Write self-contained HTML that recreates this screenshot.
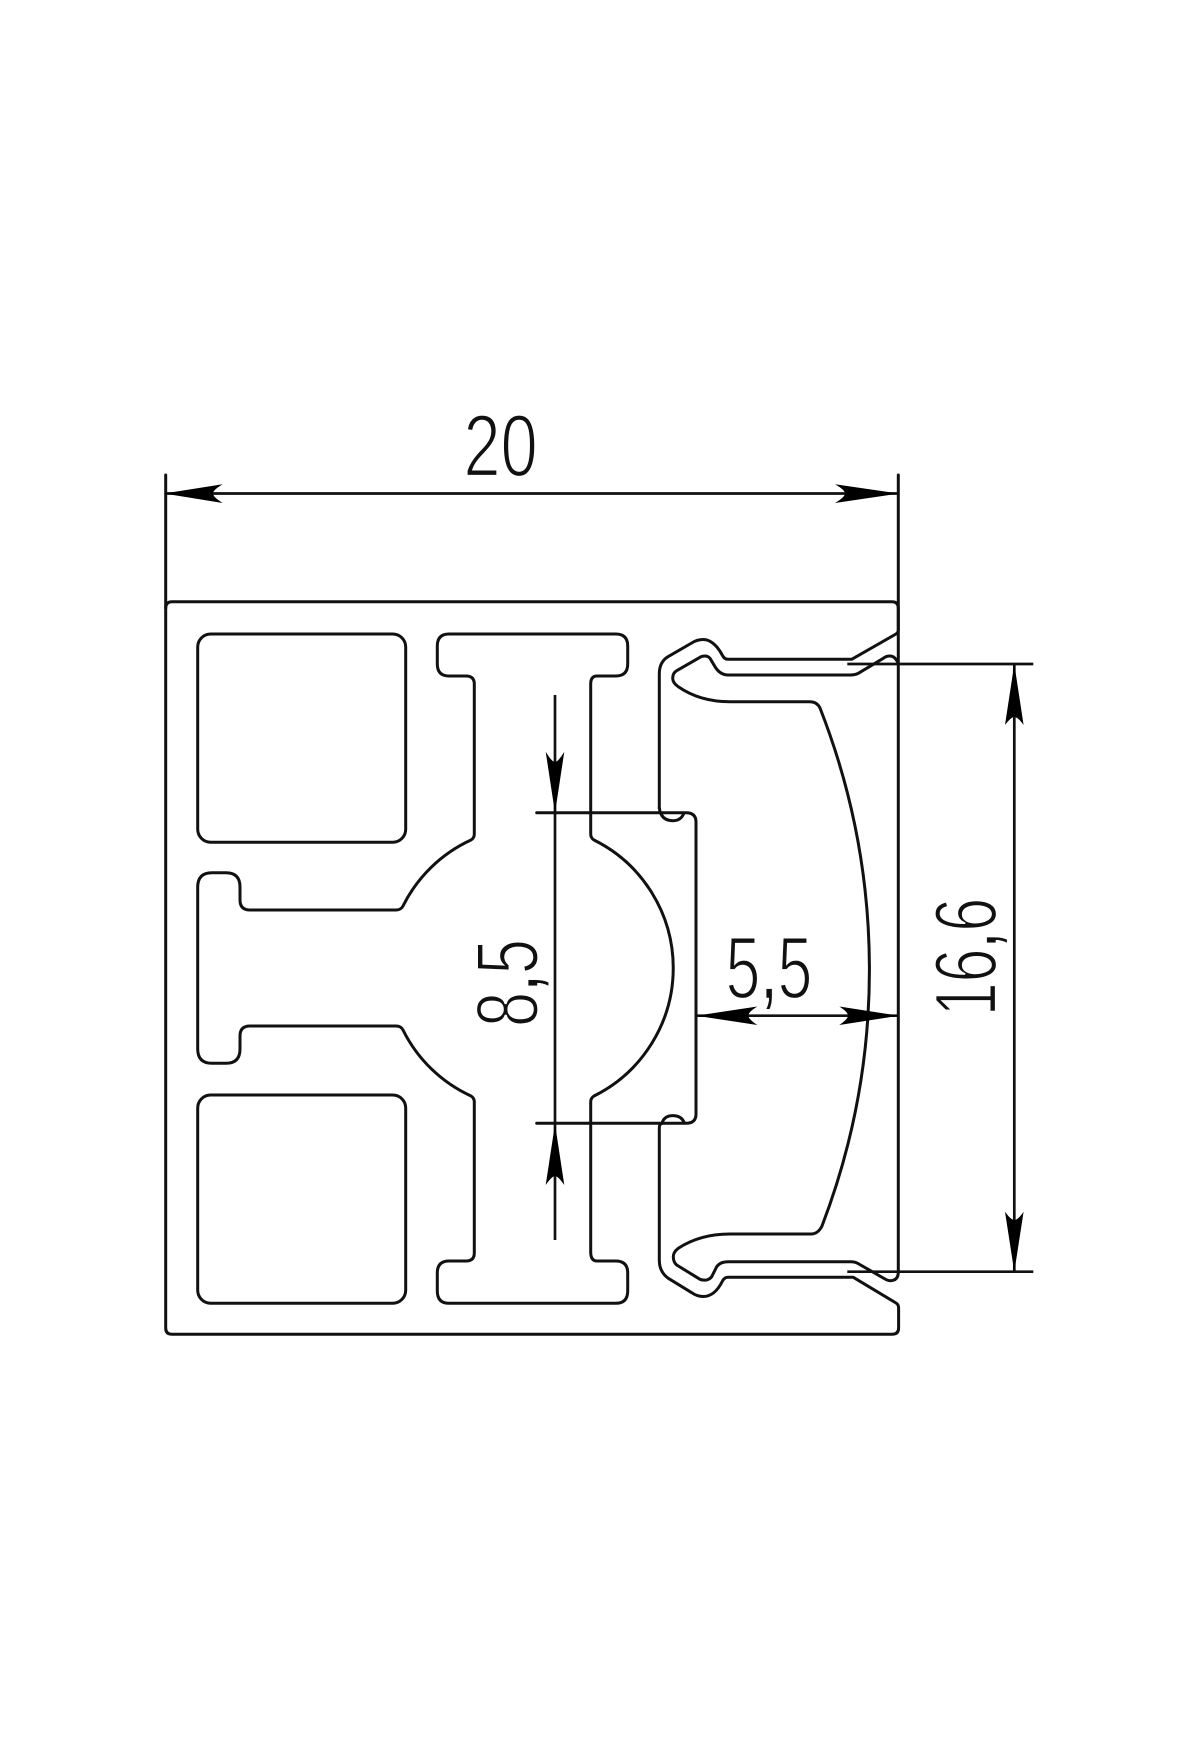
<!DOCTYPE html>
<html>
<head>
<meta charset="utf-8">
<style>
html,body{margin:0;padding:0;background:#fff;}
svg{display:block;}
text{font-family:"Liberation Sans",sans-serif;font-size:88px;fill:#111;stroke:#fff;stroke-width:2.2px;text-anchor:middle;}
.c{stroke-width:.6px;}
.o{fill:none;stroke:#111;stroke-width:3;stroke-linejoin:round;stroke-linecap:round;}
.d{fill:none;stroke:#111;stroke-width:2.7;}
.a{fill:#000;stroke:none;}
</style>
</head>
<body>
<svg width="1200" height="1760" viewBox="0 0 1200 1760" xmlns="http://www.w3.org/2000/svg">
<rect width="1200" height="1760" fill="#fff"/>

<!-- outer extrusion -->
<path class="o" d="M165.7 475 V1328 Q165.7 1334.3 172 1334.3 H892 Q898.6 1334.3 898.6 1328 V1308 Q898.6 1304.5 896 1303 L853.3 1277.3 H728 Q724.5 1277.3 722.5 1281 C717 1292 710 1296.5 703.3 1296.5 Q697 1296.5 691.7 1292.7 L668.3 1278.3 Q659.3 1272 659.3 1260 V1128 Q659.3 1124 662 1123.3"/>
<path class="o" d="M165.7 608 Q165.7 601.7 172 601.7 H892 Q898.3 601.7 898.3 608 V630 Q898.3 632.5 896 634 L851.7 659.3 H728 Q724.5 659.3 722.5 655.5 C717 645 710 639.5 703.3 639.5 Q697 639.5 691.7 643 L668 656.7 Q659.3 662 659.3 674 V808"/>

<!-- holes -->
<rect class="o" x="197.7" y="634" width="208" height="208.3" rx="13" ry="13"/>
<rect class="o" x="197.7" y="1095" width="208" height="208.3" rx="13" ry="13"/>

<!-- central H profile -->
<path class="o" d="M449 634 H615.7 Q627.7 634 627.7 646 V664 Q627.7 676 615.7 676 H597 Q590.7 676 590.7 684 V834 Q590.7 838 594 840 A143 143 0 0 1 594 1096 Q590.7 1098 590.7 1102 V1252 Q590.7 1261 597 1261 H615.7 Q627.7 1261 627.7 1273 V1291 Q627.7 1303.3 615.7 1303.3 H449 Q437.3 1303.3 437.3 1291 V1273 Q437.3 1261 449 1261 H466 Q474.3 1261 474.3 1253 V1102 Q474.3 1098 471 1096 A142 142 0 0 1 403 1030 Q401 1026 396 1026 H250 Q240 1026 240 1036 V1049 Q240 1063.3 226 1063.3 H212 Q197.7 1063.3 197.7 1049 V887 Q197.7 872.7 212 872.7 H226 Q240 872.7 240 887 V900 Q240 910 250 910 H396 Q401 910 403 906 A142 142 0 0 1 471 840 Q474.3 838 474.3 834 V684 Q474.3 676 466 676 H449 Q437.3 676 437.3 664 V646 Q437.3 634 449 634 Z"/>

<!-- right web with notches -->
<path class="o" d="M536.7 812.7 H686 Q696 812.7 696 822 V1114 Q696 1123.3 686 1123.3 H536.7"/>
<path class="o" d="M659.3 808 Q661 820.7 673 820.7 Q681 820.7 684 813"/>
<path class="o" d="M662 1123.3 Q664 1115.6 673 1115.6 Q681 1115.6 684 1122"/>

<!-- cover / lens -->
<path class="o" d="M898.3 663.3 Q895 656 890 656 Q886 656 883.3 658.3 L858.3 673.3 Q855 675 851 675 H728.3 Q720 675 715 666.7 L710 658.3 Q708 656 705 656 Q702 656 700 657.3 L676.7 670.7 Q672.7 673 672.7 678.3 Q672.7 683 678.3 686.7 Q700 701.7 730 701.7 H810 Q817 701.7 820 708 A717 717 0 0 1 822 1226 Q818 1234 811 1234 H730 Q700 1234 678.3 1248.3 Q673.3 1252 673.3 1256.7 Q673.3 1262 676.7 1265 L700 1279.3 Q703 1280.5 706.7 1280 Q710 1279 711.7 1276.7 L716.7 1266.7 Q720 1261.7 728.3 1261.7 H851 Q855 1261.7 858 1263.5 L885 1279 Q888 1280.7 890 1280.7 Q898.3 1280.7 898.3 1272 V475"/>

<!-- dimension: 20 -->
<line class="d" x1="166" y1="493.5" x2="898" y2="493.5"/>
<path class="a" d="M164 493.5 L222.7 484.3 Q213 490 213 493.5 Q213 497 222.7 503 Z"/>
<path class="a" d="M899 493.5 L835 484.3 Q845 490 845 493.5 Q845 497 835 503 Z"/>
<text transform="translate(500.5 476) scale(.76 1)">20</text>

<!-- dimension: 8,5 -->
<line class="d" x1="555" y1="695" x2="555" y2="1240"/>
<path class="a" d="M555 813 L545.7 751.7 Q552 762 555 762 Q558 762 564.3 751.7 Z"/>
<path class="a" d="M555 1124 L545.7 1185 Q552 1176 555 1176 Q558 1176 564.3 1185 Z"/>
<text transform="translate(537.7 983) rotate(-90) scale(.72 1)">8<tspan class="c">,</tspan>5</text>

<!-- dimension: 5,5 -->
<line class="d" x1="696" y1="1015.7" x2="898" y2="1015.7"/>
<path class="a" d="M696 1015.7 L757.3 1006.5 Q748.3 1012 748.3 1015.7 Q748.3 1019 757.3 1025 Z"/>
<path class="a" d="M899 1015.7 L839.3 1006.5 Q848 1012 848 1015.7 Q848 1019 839.3 1025 Z"/>
<text transform="translate(769 998) scale(.71 1)">5<tspan class="c">,</tspan>5</text>

<!-- dimension: 16,6 -->
<line class="d" x1="847.3" y1="664" x2="1033.3" y2="664"/>
<line class="d" x1="847.3" y1="1271.7" x2="1033.3" y2="1271.7"/>
<line class="d" x1="1014.3" y1="664" x2="1014.3" y2="1271.7"/>
<path class="a" d="M1014.3 664 L1005 725 Q1011 717 1014.3 717 Q1018 717 1023.6 725 Z"/>
<path class="a" d="M1014.3 1272 L1005 1211.7 Q1011 1220 1014.3 1220 Q1018 1220 1023.6 1211.7 Z"/>
<text transform="translate(996 957) rotate(-90) scale(.69 1)">16<tspan class="c">,</tspan>6</text>
</svg>
</body>
</html>
